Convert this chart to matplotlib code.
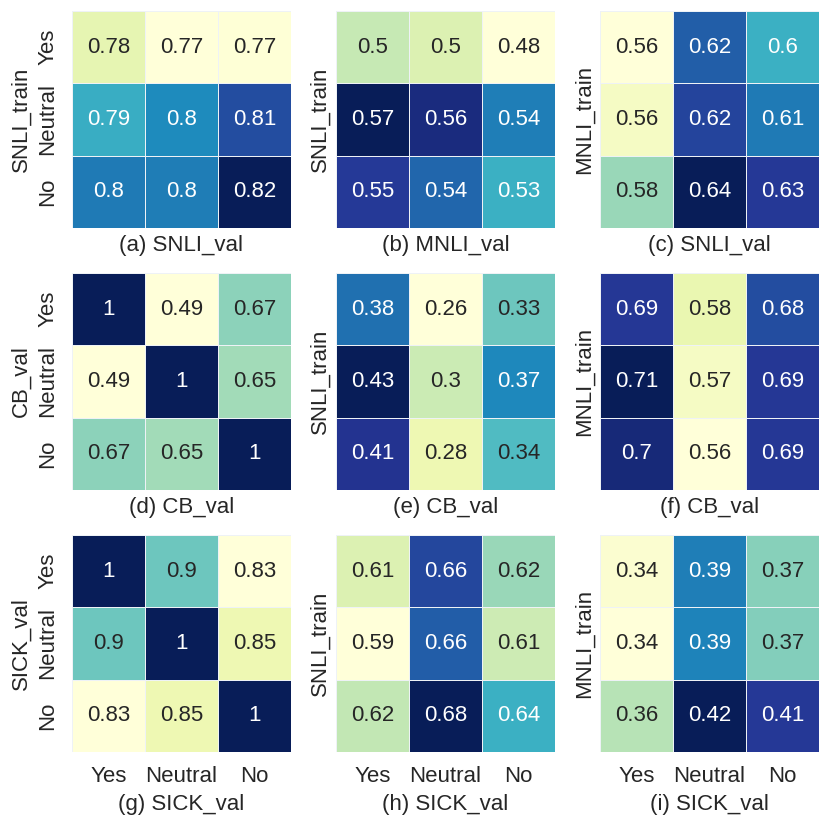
import matplotlib
matplotlib.use("Agg")
import matplotlib.pyplot as plt
import numpy as np
import seaborn as sns

sns.set_theme(style="white")
plt.rcParams['font.family'] = ['Liberation Sans', 'DejaVu Sans']

classes = ["Yes", "Neutral", "No"]

# values (a)..(i), rows = train/val labels, cols = Yes/Neutral/No
a = [[0.7773, 0.7705, 0.7710], [0.7944, 0.7993, 0.8065], [0.8011, 0.8009, 0.8155]]
b = [[0.502, 0.496, 0.4805], [0.5665, 0.5596, 0.5381], [0.5542, 0.5433, 0.5252]]
c = [[0.558, 0.618, 0.5996], [0.5636, 0.6240, 0.6124], [0.5844, 0.638, 0.6268]]
d = [[1, 0.49, 0.67], [0.49, 1, 0.65], [0.67, 0.65, 1]]
e = [[0.38, 0.26, 0.33], [0.43, 0.30, 0.37], [0.41, 0.28, 0.34]]
f = [[0.69, 0.58, 0.68], [0.71, 0.57, 0.69], [0.70, 0.56, 0.69]]
g = [[1, 0.9, 0.83], [0.9, 1, 0.85], [0.83, 0.85, 1]]
h = [[0.6093, 0.6637, 0.622], [0.594, 0.6578, 0.6136], [0.6161, 0.679, 0.6382]]
i_ = [[0.3404, 0.3916, 0.3668], [0.338, 0.3908, 0.3676], [0.3604, 0.418, 0.4068]]

mats = [a, b, c, d, e, f, g, h, i_]
ylabels = ["SNLI_train", "SNLI_train", "MNLI_train",
           "CB_val", "SNLI_train", "MNLI_train",
           "SICK_val", "SNLI_train", "MNLI_train"]
xlabels = ["(a) SNLI_val", "(b) MNLI_val", "(c) SNLI_val",
           "(d) CB_val", "(e) CB_val", "(f) CB_val",
           "(g) SICK_val", "(h) SICK_val", "(i) SICK_val"]

fig, axes = plt.subplots(3, 3, figsize=(8.3, 8.25), dpi=100)
fig.subplots_adjust(left=0.0867, right=0.9867, top=0.9867, bottom=0.0885,
                    wspace=0.2055, hspace=0.207)

for k, ax in enumerate(axes.flat):
    row, col = divmod(k, 3)
    sns.heatmap(np.array(mats[k]), ax=ax, cmap="YlGnBu", annot=True, fmt=".2g",
                annot_kws={"size": 16}, cbar=False,
                linewidths=0.5, linecolor="#eef2f6",
                xticklabels=classes if row == 2 else False,
                yticklabels=classes if col == 0 else False)
    ax.set_xlabel(xlabels[k], fontsize=16, labelpad=5)
    ax.set_ylabel(ylabels[k], fontsize=16, labelpad=4)
    ax.tick_params(axis="both", length=0, pad=10, labelsize=16)
    if col == 0:
        plt.setp(ax.get_yticklabels(), rotation=90, va="center")
    if row == 2:
        plt.setp(ax.get_xticklabels(), rotation=0)

fig.savefig("out.png", dpi=100)
